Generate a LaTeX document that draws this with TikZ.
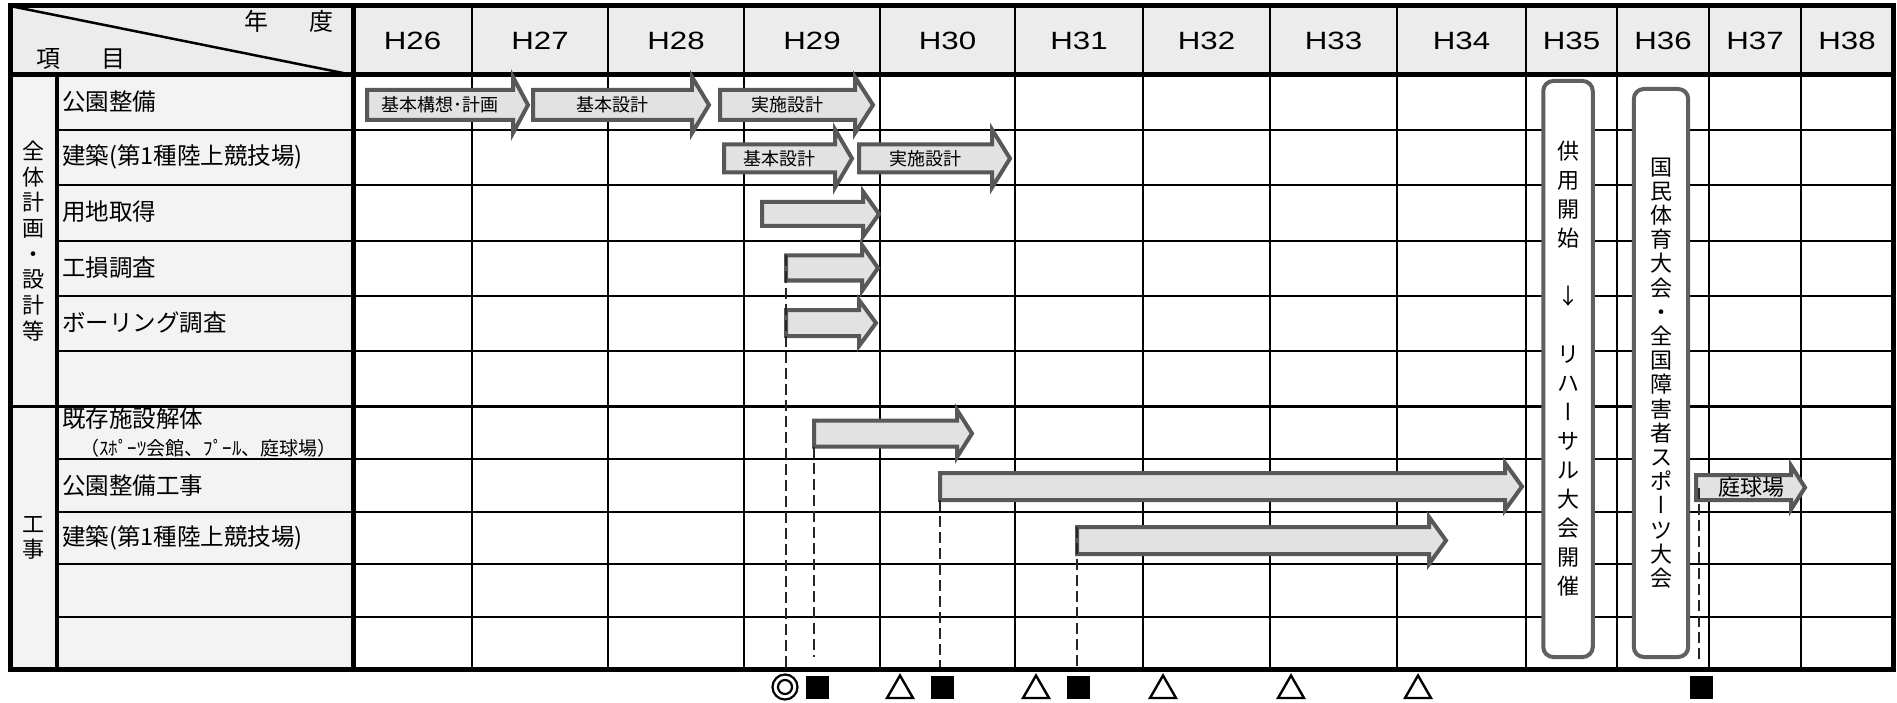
\documentclass[tikz,border=0pt]{standalone}
\usepackage{fontspec}
\setmainfont{Noto Sans CJK JP}
\newfontfamily\jpfont{Noto Sans CJK JP}
\newfontfamily\jpvert[RawFeature=+vert]{Noto Sans CJK JP}
\newfontfamily\yrfont[FakeStretch=1.25]{Liberation Sans}
\usetikzlibrary{shapes.geometric}
\definecolor{hdrfill}{RGB}{236,236,236}
\definecolor{labfill}{RGB}{243,243,243}
\definecolor{arrfill}{RGB}{226,226,226}
\definecolor{arredge}{RGB}{88,88,88}
\definecolor{rredge}{RGB}{96,96,96}
\tikzset{
  gridline/.style={line width=2pt, black},
  midline/.style={line width=3.5pt, black},
  heavyline/.style={line width=5pt, black},
  arrowline/.style={draw=arredge, fill=arrfill, line width=4pt},
  arrowbody/.style={inner sep=0pt, outer sep=0pt, font=\jpfont\fontsize{18}{20}\selectfont},
  rrect/.style={draw=rredge, fill=white, line width=4pt, rounded corners=10pt, inner sep=0pt, outer sep=0pt, align=center},
  conn/.style={line width=2.6pt, black!85, dash pattern=on 11pt off 5pt},
  sqmark/.style={rectangle, fill=black, minimum size=23pt, inner sep=0pt, outer sep=0pt},
  trimark/.style={regular polygon, regular polygon sides=3, minimum size=30pt, draw=black, line width=2.4pt, fill=white, inner sep=0pt, outer sep=0pt},
  dblmark/.style={circle, draw=black, line width=2.2pt, minimum size=25pt, inner sep=0pt, outer sep=0pt},
  hdrtext/.style={font=\jpfont\fontsize{24}{26}\selectfont, inner sep=0pt},
  yeartext/.style={font=\yrfont\fontsize{25}{27}\selectfont, inner sep=0pt},
  itemtext/.style={font=\jpfont\fontsize{23.5}{26}\selectfont, anchor=west, inner sep=0pt},
  subtext/.style={font=\jpfont\fontsize{19}{21}\selectfont, anchor=west, inner sep=0pt},
  grouptext/.style={font=\jpfont\fontsize{22}{25.7}\selectfont, align=center, inner sep=0pt},
}
% name, x0, xbase, xtip, ycenter, body half height, head half height, text
\newcommand\garrow[8]{%
  \draw[arrowline] (#2,#5-#6) -- (#3,#5-#6) -- (#3,#5-#7) -- (#4,#5) -- (#3,#5+#7) -- (#3,#5+#6) -- (#2,#5+#6) -- cycle;
  \node[arrowbody, minimum width=#3-#2, minimum height=2*#6] (#1) at ({(#2+#3)/2},#5) {#8};
}
\begin{document}
\begin{tikzpicture}[x=1pt,y=-1pt]
\useasboundingbox (0,0) rectangle (1897,703);
% fills
\fill[hdrfill] (10,6) rectangle (1893,75);
\fill[labfill] (10,75) rectangle (353,669);
% grid
\foreach \y in {130.25,185.5,240.75,296,351.25,459,511.5,564,616.5}
  \draw[gridline] (57,\y) -- (1893,\y);
\foreach \x in {472,608,744,880,1015,1143,1270,1397,1526,1617,1709,1801}
  \draw[gridline] (\x,6) -- (\x,669);
\draw[midline] (10,406.5) -- (1893,406.5);
\draw[midline] (57,75) -- (57,669);
\draw[heavyline] (353,6) -- (353,669);
\draw[heavyline] (10,75) -- (1893,75);
\draw[line width=2.5pt] (10,6) -- (353,75);
\draw[heavyline] (10,6) rectangle (1893,669);
% header texts
\node[hdrtext] (nen) at (256,21) {年};
\node[hdrtext] (do) at (321,21) {度};
\node[hdrtext] (kou) at (48.5,59) {項};
\node[hdrtext] (moku) at (113,59) {目};
\foreach \x/\t in {412.5/26,540/27,676/28,812/29,947.5/30,1079/31,1206.5/32,1333.5/33,1461.5/34,1571.5/35,1663/36,1755/37,1847/38}
  \node[yeartext] (yr\t) at (\x,41) {H\t};
% group labels
\node[grouptext] (g1) at (33.5,241) {全\\体\\計\\画\\・\\設\\計\\等};
\node[grouptext] (g2) at (33.5,538) {工\\事};
% item labels
\node[itemtext] (i1) at (62,101.5) {公園整備};
\node[itemtext] (i2) at (62,157) {建築(第1種陸上競技場)};
\node[itemtext] (i3) at (62,212) {用地取得};
\node[itemtext] (i4) at (62,267.5) {工損調査};
\node[itemtext] (i5) at (62,322.5) {ボーリング調査};
\node[itemtext] (i7) at (62,419) {既存施設解体};
\node[subtext] (i7b) at (80,448) {（ｽﾎﾟｰﾂ会館、ﾌﾟｰﾙ、庭球場）};
\node[itemtext] (i8) at (62,486) {公園整備工事};
\node[itemtext] (i9) at (62,538) {建築(第1種陸上競技場)};
% arrows
\garrow{a1}{367}{513}{528}{105}{15}{28}{基本構想･計画}
\garrow{a2}{533}{692}{709}{105}{15}{28}{基本設計}
\garrow{a3}{720}{855}{873}{105}{15}{28}{実施設計}
\garrow{a4}{724}{835}{852}{158.5}{14}{29}{基本設計}
\garrow{a5}{859}{992}{1010}{158.5}{14}{29}{実施設計}
\garrow{a6}{762}{863}{879}{214}{12}{22.5}{}
\garrow{a7}{786}{862}{878}{268}{12.5}{23}{}
\garrow{a8}{786}{859}{876}{323}{13}{23}{}
\garrow{a9}{814}{957}{972}{433.5}{13}{23.5}{}
\garrow{a10}{940}{1505}{1522}{486.5}{13.5}{23.5}{}
\garrow{a11}{1077}{1429}{1446}{540.5}{13.5}{23.5}{}
\garrow{a12}{1696}{1791}{1805}{487.5}{12.5}{22}{\fontsize{22}{24}\selectfont\hspace*{16pt}庭球場}
% rounded boxes
\node[rrect, minimum width=49.5, minimum height=576, font=\jpfont\fontsize{22}{29}\selectfont] (r1) at (1568,369)
  {供\\用\\開\\始\\\mbox{}\\↓\\\mbox{}\\リ\\ハ\\{\jpvert ー}\\サ\\ル\\大\\会\\開\\催};
\node[rrect, minimum width=54.4, minimum height=568, font=\jpfont\fontsize{22}{24.2}\selectfont] (r2) at (1661,373)
  {国\\民\\体\\育\\大\\会\\・\\全\\国\\障\\害\\者\\ス\\ポ\\{\jpvert ー}\\ツ\\大\\会};
% markers
\node[dblmark] (m1) at (785,687) {};
\draw[line width=2.2pt] (m1.center) circle (7);
\node[sqmark] (m2) at (817,687) {};
\node[trimark] (m3) at (900,690.5) {};
\node[sqmark] (m4) at (942,687) {};
\node[trimark] (m5) at (1036,690.5) {};
\node[sqmark] (m6) at (1078,687) {};
\node[trimark] (m7) at (1163,690.5) {};
\node[trimark] (m8) at (1291,690.5) {};
\node[trimark] (m9) at (1418,690.5) {};
\node[sqmark] (m10) at (1701,687) {};
% dashed connectors
\draw[conn, shorten >=5.5pt] (a7.north west) -- (a7.north west |- m1.north);
\draw[conn, shorten >=18.5pt] (a9.south west) -- (a9.south west |- m2.north);
\draw[conn, shorten >=8.5pt] (a10.south west) -- (a10.south west |- m4.north);
\draw[conn, shorten >=8.5pt] (a11.north west) -- (a11.north west |- m6.north);
\draw[conn, shorten >=12.5pt] ([xshift=3pt]a12.west) -- ([xshift=3pt]a12.west |- m10.north);
\end{tikzpicture}
\end{document}
